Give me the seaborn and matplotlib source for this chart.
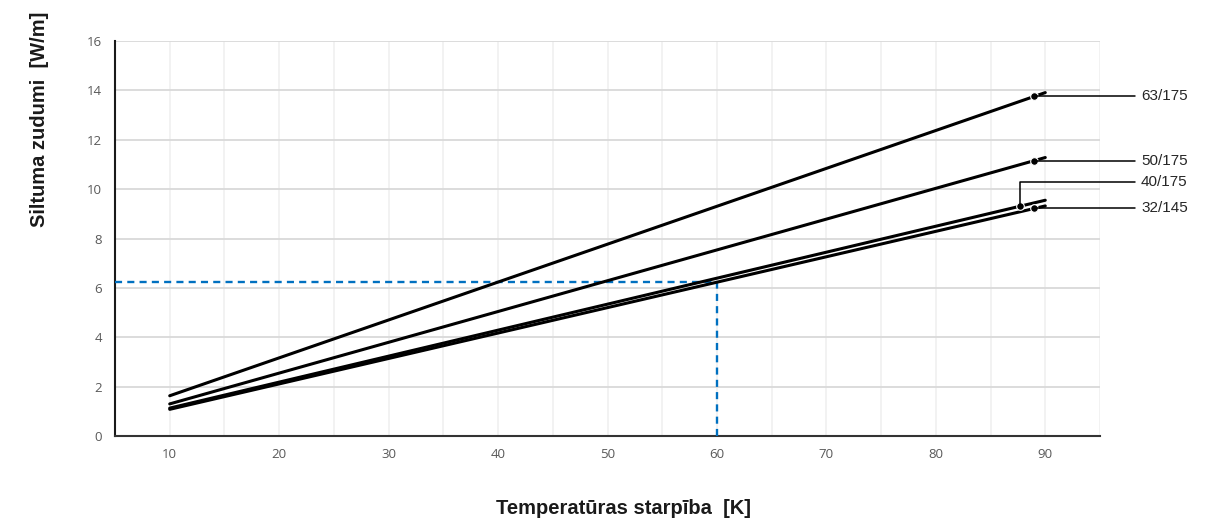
import matplotlib
matplotlib.use("Agg")
import matplotlib.pyplot as plt
import numpy as np
import pandas as pd
import seaborn as sns

# Pipe series (jacket/diameter) and their heat-loss endpoints
series = ["63/175", "50/175", "40/175", "32/145"]
delta_t = [10, 90]
loss_63_175 = [1.63, 13.91]
loss_50_175 = [1.30, 11.28]
loss_40_175 = [1.13, 9.55]
loss_32_145 = [1.08, 9.32]

# Label anchor points on each line (temperature difference)
label_x = [89.0, 89.0, 87.7, 89.0]
label_y = [96, 160, 182, 208]  # label rows, in pixels from the top

# Reading guide
guide_x = 60
guide_y = 6.23

x_ticks = [10, 20, 30, 40, 50, 60, 70, 80, 90]
y_ticks = [0, 2, 4, 6, 8, 10, 12, 14, 16]

values = [loss_63_175, loss_50_175, loss_40_175, loss_32_145]
df = pd.DataFrame(
    [(s, t, v) for s, vals in zip(series, values) for t, v in zip(delta_t, vals)],
    columns=["series", "dt", "loss"],
)

sns.set_theme(style="white")
plt.rcParams["font.family"] = ["Liberation Sans", "DejaVu Sans"]

W, H = 1216, 524
fig = plt.figure(figsize=(W / 100, H / 100), dpi=100)
ax = fig.add_axes([115 / W, 1 - 436 / H, (1100 - 115) / W, (436 - 41) / H])

# grid
for xv in np.arange(10, 96, 5):
    ax.axvline(xv, color="#f0f0f0", lw=1.2, zorder=0)
for yv in y_ticks[1:]:
    ax.axhline(yv, color="#d9d9d9", lw=1.3, zorder=0)

# guide lines
ax.plot([5, guide_x], [guide_y, guide_y], color="#0070c0", lw=1.7,
        ls=(0, (3, 2.2)), zorder=3)
ax.plot([guide_x, guide_x], [0, guide_y], color="#0070c0", lw=1.7,
        ls=(0, (3, 2.2)), zorder=3)

sns.lineplot(data=df, x="dt", y="loss", units="series", estimator=None,
             color="black", lw=2.2, ax=ax, zorder=4, legend=False)

ax.set_xlim(5, 95)
ax.set_ylim(0, 16)
ax.set_xticks(x_ticks)
ax.set_yticks(y_ticks)
tick_font = dict(family=["Open Sans", "DejaVu Sans"], size=9.5, color="#595959")
ax.set_xticklabels([str(v) for v in x_ticks], **tick_font)
ax.set_yticklabels([str(v) for v in y_ticks], **tick_font)
ax.tick_params(axis="x", length=0, pad=9)
ax.tick_params(axis="y", length=0, pad=9.5)
ax.set_xlabel("")
ax.set_ylabel("")

for side in ["top", "right"]:
    ax.spines[side].set_visible(False)
ax.spines["left"].set_color("#1a1a1a")
ax.spines["left"].set_linewidth(1.5)
ax.spines["bottom"].set_color("#333333")
ax.spines["bottom"].set_linewidth(1.5)

# labels with leader lines
label_end_px = 1135
for name, vals, lx, ly_px in zip(series, values, label_x, label_y):
    y_on = vals[0] + (vals[1] - vals[0]) * (lx - delta_t[0]) / (delta_t[1] - delta_t[0])
    px, py = ax.transData.transform((lx, y_on))
    fx, fy = px / W, py / H
    ly = 1 - ly_px / H
    lex = label_end_px / W
    if abs(ly - fy) * H > 4:
        fig.add_artist(plt.Line2D([fx, fx, lex], [fy, ly, ly], color="black", lw=1.1))
    else:
        fig.add_artist(plt.Line2D([fx, lex], [fy, fy], color="black", lw=1.1))
        ly = fy
    ax.plot([lx], [y_on], "o", color="black", ms=5.5, mec="white", mew=0.8,
            zorder=6, clip_on=False)
    fig.text(1141 / W, ly, name, ha="left", va="center", fontsize=11,
             color="#262626")

fig.text(624 / W, 1 - 508 / H, "Temperatūras starpība  [K]", ha="center",
         va="center", fontsize=14.5, fontweight="bold", color="#1a1a1a")
fig.text(40 / W, 1 - 119 / H, "Siltuma zudumi  [W/m]", ha="center",
         va="center", rotation=90, fontsize=14.5, fontweight="bold", color="#1a1a1a")

fig.savefig("out.png", dpi=100)
